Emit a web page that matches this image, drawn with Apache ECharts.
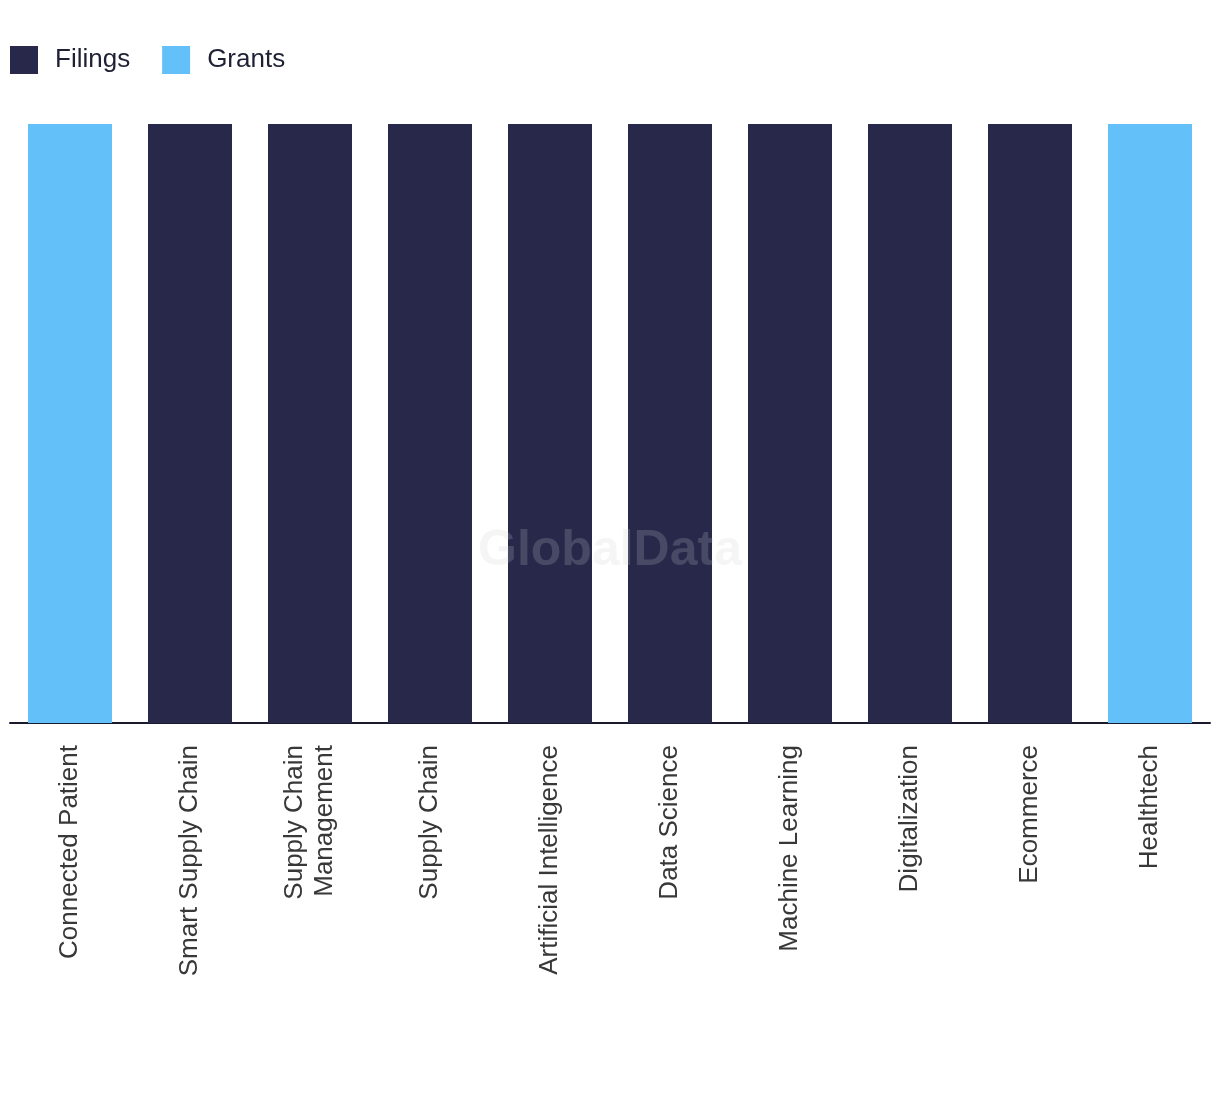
<!DOCTYPE html>
<html>
<head>
<meta charset="utf-8">
<script src="https://cdn.jsdelivr.net/npm/echarts@6/dist/echarts.min.js"></script>
<style>
html,body{margin:0;padding:0;background:#fff;}
#chart{width:1220px;height:1094px;}
</style>
</head>
<body>
<div id="chart"></div>
<script>
const categories = ['Connected Patient','Smart Supply Chain','Supply Chain\nManagement','Supply Chain','Artificial Intelligence','Data Science','Machine Learning','Digitalization','Ecommerce','Healthtech'];
const filings = [0,100,100,100,100,100,100,100,100,0];
const grants  = [100,0,0,0,0,0,0,0,0,100];
const seriesNames = ['Filings','Grants'];
const colors = ['#27284a','#63c0f9'];

const chart = echarts.init(document.getElementById('chart'), null, {renderer:'canvas'});
chart.setOption({
  animation:false,
  color: colors,
  legend:{
    left:10, top:46, padding:0,
    itemWidth:28, itemHeight:28, itemGap:32,
    icon:'rect',
    textStyle:{fontFamily:'Liberation Sans, Arial, sans-serif', fontSize:26, color:'#1f2033', padding:[0,0,0,12]},
    data: seriesNames
  },
  grid:{left:10, right:10, top:124, bottom:371, containLabel:false},
  xAxis:{
    type:'category', data:categories,
    axisLine:{show:true, lineStyle:{color:'#1a1a2e', width:2}},
    axisTick:{show:false},
    axisLabel:{rotate:90, margin:22, interval:0, fontFamily:'Liberation Sans, Arial, sans-serif', fontSize:26, color:'#383838', lineHeight:30}
  },
  yAxis:{type:'value', min:0, max:100, show:false, splitLine:{show:false}},
  series:[
    {name:seriesNames[0], type:'bar', stack:'s', data:filings, barWidth:'70%'},
    {name:seriesNames[1], type:'bar', stack:'s', data:grants, barWidth:'70%'}
  ],
  graphic:[{
    type:'text', left:'center', top:526, z:100, silent:true,
    style:{text:'GlobalData', font:'bold 50px "Liberation Sans", Arial, sans-serif', fill:'rgba(204,204,204,0.2)'}
  }]
});
</script>
</body>
</html>
